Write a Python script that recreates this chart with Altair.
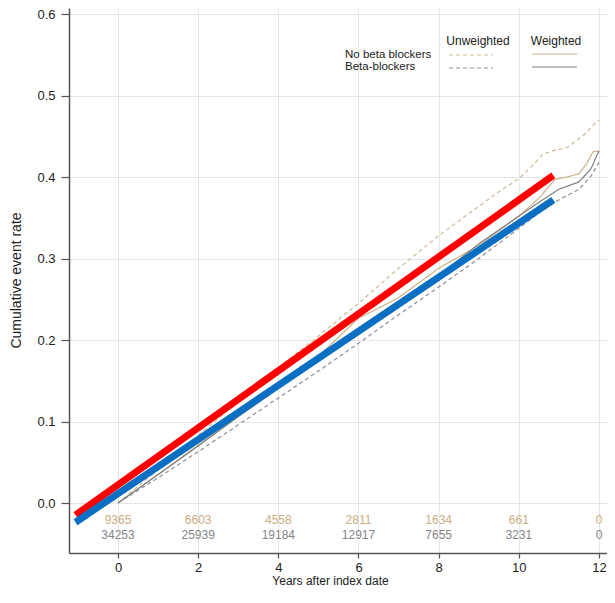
import altair as alt
import pandas as pd

# ---- data ----
risk_years = [0, 2, 4, 6, 8, 10, 12]
risk_no_bb = ["9365", "6603", "4558", "2811", "1634", "661", "0"]
risk_bb = ["34253", "25939", "19184", "12917", "7655", "3231", "0"]

unw_nobb_x = [0, 1, 2, 3, 4, 5, 6, 7, 8, 9, 9.5, 10, 10.3, 10.6, 10.9, 11.2, 11.5, 11.7, 11.9, 12.0]
unw_nobb_y = [0, 0.041, 0.083, 0.124, 0.166, 0.205, 0.245, 0.288, 0.328, 0.364, 0.382, 0.398, 0.412,
              0.428, 0.433, 0.436, 0.447, 0.455, 0.466, 0.470]

w_nobb_x = [0, 1, 2, 3, 4, 5, 6, 6.5, 7, 8, 9, 10, 10.5, 10.9, 11.2, 11.5, 11.7, 11.85, 12.0]
w_nobb_y = [0, 0.035, 0.071, 0.107, 0.143, 0.180, 0.227, 0.239, 0.252, 0.288, 0.316, 0.352, 0.374,
            0.397, 0.400, 0.404, 0.417, 0.431, 0.432]

w_bb_x = [0, 1, 2, 3, 4, 5, 6, 7, 8, 9, 10, 10.5, 11, 11.5, 11.8, 11.95, 12.0]
w_bb_y = [0, 0.035, 0.070, 0.106, 0.141, 0.176, 0.210, 0.244, 0.279, 0.318, 0.352, 0.369, 0.385,
          0.394, 0.410, 0.427, 0.432]

unw_bb_x = [0, 1, 2, 3, 4, 5, 6, 7, 8, 9, 10, 10.5, 11, 11.5, 11.8, 12.0]
unw_bb_y = [0, 0.031, 0.063, 0.096, 0.129, 0.162, 0.196, 0.231, 0.265, 0.300, 0.337, 0.356, 0.372,
            0.385, 0.401, 0.418]

fit_x = [-1.06, 10.86]
red_y = [-0.0147, 0.402]
blue_y = [-0.0236, 0.372]

series_names = ["unw_nobb", "w_nobb", "w_bb", "unw_bb"]
series_colors = ["#cdbb98", "#c8b287", "#7f7f7f", "#8f8f9a"]
series_dash = [[4, 3], [1, 0], [1, 0], [4, 3]]

# ---- tables built from the arrays ----
rows = []
for name, xs, ys in [("unw_nobb", unw_nobb_x, unw_nobb_y), ("w_nobb", w_nobb_x, w_nobb_y),
                     ("w_bb", w_bb_x, w_bb_y), ("unw_bb", unw_bb_x, unw_bb_y)]:
    for i, (a, b) in enumerate(zip(xs, ys)):
        rows.append({"series": name, "t": a, "rate": b, "order": i})
curves = pd.DataFrame(rows)

red_df = pd.DataFrame({"t": fit_x, "rate": red_y})
blue_df = pd.DataFrame({"t": fit_x, "rate": blue_y})
risk = pd.DataFrame({"t": risk_years, "nobb": risk_no_bb, "bb": risk_bb})

FONT = "Liberation Sans"
x_dom = [-1.2225, 12.2]
y_dom = [-0.0613, 0.6074]

xenc = alt.X("t:Q", scale=alt.Scale(domain=x_dom, nice=False, zero=False),
             axis=alt.Axis(values=risk_years, title="Years after index date", format="d",
                           grid=True, gridColor="#e6e6e6", tickSize=5, labelPadding=3,
                           titleFontSize=12, titleFontWeight="normal", titleBaseline="top",
                           titleY=22, titleX=261, titleColor="#222"))
yenc = alt.Y("rate:Q", scale=alt.Scale(domain=y_dom, nice=False, zero=False),
             axis=alt.Axis(values=[0, 0.1, 0.2, 0.3, 0.4, 0.5, 0.6], format=".1f",
                           title="Cumulative event rate", grid=True, gridColor="#e6e6e6",
                           tickSize=8, labelPadding=6, titleFontSize=14,
                           titleFontWeight="normal", titleX=-53, titleY=272,
                           titleBaseline="middle", titleAngle=-90, titleColor="#222"))

km = alt.Chart(curves).mark_line(strokeWidth=1.2, interpolate="linear").encode(
    x=xenc, y=yenc,
    color=alt.Color("series:N", scale=alt.Scale(domain=series_names, range=series_colors), legend=None),
    strokeDash=alt.StrokeDash("series:N", scale=alt.Scale(domain=series_names, range=series_dash), legend=None),
    order="order:Q",
)

red_line = alt.Chart(red_df).mark_line(strokeWidth=7, strokeCap="butt", color="#ff0000").encode(
    x="t:Q", y="rate:Q")
blue_line = alt.Chart(blue_df).mark_line(strokeWidth=7, strokeCap="butt", color="#0a6fc2").encode(
    x="t:Q", y="rate:Q")

risk_top = alt.Chart(risk).mark_text(font=FONT, fontSize=12, color="#c9ae80").encode(
    x="t:Q", y=alt.value(512), text="nobb:N")
risk_bot = alt.Chart(risk).mark_text(font=FONT, fontSize=12, color="#858585").encode(
    x="t:Q", y=alt.value(527), text="bb:N")

one = alt.Data(values=[{}])
def label(txt, x, y, size, align="left"):
    return alt.Chart(one).mark_text(text=txt, font=FONT, fontSize=size, align=align,
                                    baseline="middle", color="#222").encode(
        x=alt.value(x), y=alt.value(y))

def swatch(x1, x2, y, color, dash):
    return alt.Chart(one).mark_rule(color=color, strokeWidth=1.2, strokeDash=dash).encode(
        x=alt.value(x1), x2=alt.value(x2), y=alt.value(y))

legend = [
    label("Unweighted", 409, 33, 12, "center"),
    label("Weighted", 487, 33, 12, "center"),
    label("No beta blockers", 276, 47, 11.5),
    label("Beta-blockers", 276, 59, 11.5),
    swatch(380, 424, 47, series_colors[0], [4, 3]),
    swatch(380, 424, 60, series_colors[3], [4, 3]),
    swatch(463, 508, 46, series_colors[1], [1, 0]),
    swatch(463, 508, 59, series_colors[2], [1, 0]),
]

chart = alt.layer(km, red_line, blue_line, risk_top, risk_bot, *legend).properties(
    width=538, height=545,
    autosize=alt.AutoSizeParams(type="none"),
    padding={"left": 61, "top": 0, "right": 0, "bottom": 34},
    background="white",
).configure_view(stroke=None).configure_axis(
    labelFont=FONT, titleFont=FONT, labelFontSize=13, labelColor="#222",
    domainColor="#555", domainWidth=1.5, tickColor="#555", tickWidth=1.2,
)

chart.save("out.html", embed_options={"renderer": "svg", "actions": False})
